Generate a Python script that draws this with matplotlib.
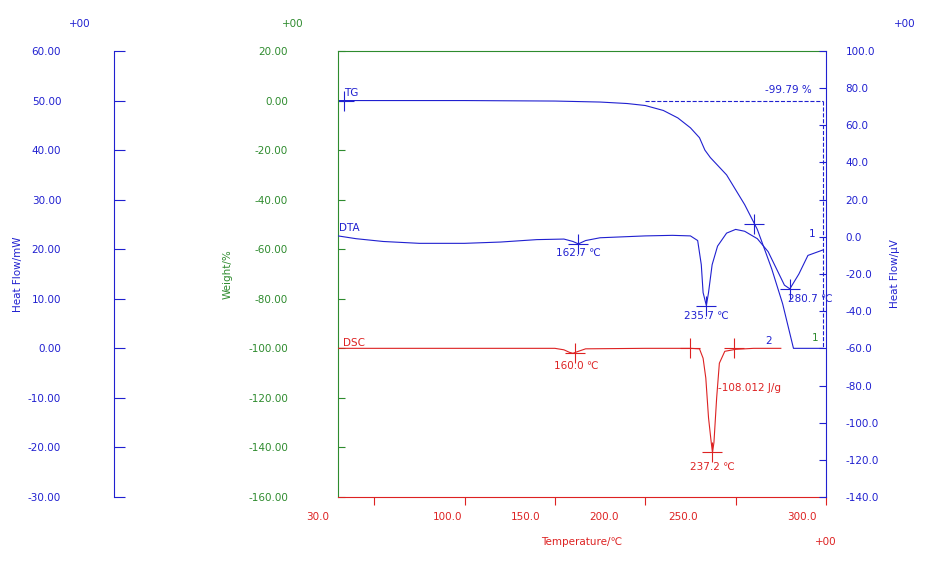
import numpy as np
import matplotlib.pyplot as plt

# TG (weight %) vs temperature
tg_t = [30, 100, 150, 175, 190, 200, 210, 218, 225, 230, 233, 236, 245, 255, 262, 270, 276, 280, 282, 298.5]
tg_w = [0, 0, -0.2, -0.6, -1.2, -2.0, -4.0, -7, -11, -15, -20, -23, -30, -42, -52, -68, -82, -94, -100, -100]

# DTA (uV)
dta_t = [30, 40, 55, 75, 100, 120, 140, 155, 160, 163, 167, 175, 200, 215, 225, 229, 231, 232, 233.8, 235, 237, 240, 245, 250, 255, 262, 268, 273, 277, 280, 285, 290, 298.5]
dta_v = [0.5, -1, -2.5, -3.5, -3.5, -2.8, -1.5, -1.2, -2.5, -3.8, -2.0, -0.5, 0.5, 0.8, 0.5, -2, -15, -30, -37, -30, -15, -5, 2, 4, 3, -1, -8, -18, -26, -28, -20, -10, -7]

# DSC (mW)
dsc_t = [30, 150, 155, 158, 160, 163, 167, 200, 225, 230, 232, 233.5, 235, 236.5, 237.2, 238, 239.5, 241, 244, 250, 260, 275]
dsc_h = [0, 0, -0.3, -0.8, -1.0, -0.6, -0.1, 0, 0, -0.1, -2, -6, -14, -19, -21, -19, -10, -3, -0.6, -0.2, 0, 0]

x_label_pos = [19, 90.4, 133.8, 177, 221, 286.6]
x_label_txt = ['30.0', '100.0', '150.0', '200.0', '250.0', '300.0']

W, H = 927, 566
fig = plt.figure(figsize=(W / 100, H / 100), dpi=100)
plt.rcParams['font.family'] = ['DejaVu Sans']
fs = 7.5
blue, green, red = '#2020d0', '#2e8b2e', '#dd2222'

ax = fig.add_axes([338 / W, 1 - 497 / H, 488 / W, 446 / H])
ax.set_xlim(30, 298.5)
ax.set_ylim(-160, 20)
ax.set_yticks(np.arange(-160, 21, 20))
ax.set_yticklabels(['%.2f' % v for v in np.arange(-160, 21, 20)], color=green, fontsize=fs)
ax.tick_params(axis='y', direction='in', length=5, pad=36, colors=green, labelcolor=green)
ax.set_xticks([50, 100, 150, 200, 250, 300])
ax.set_xticklabels([])
ax.tick_params(axis='x', direction='out', length=6, colors=red)
for p, t in zip(x_label_pos, x_label_txt):
    ax.text(p, -166, t, color=red, fontsize=fs, ha='center', va='top')
ax.text(0.5, -0.09, 'Temperature/\u2103', transform=ax.transAxes, color=red, fontsize=fs, ha='center', va='top')
ax.spines['left'].set_color(green)
ax.spines['top'].set_color(green)
ax.spines['bottom'].set_color(red)
ax.spines['right'].set_visible(False)
ax.set_ylabel('Weight/%', color=green, fontsize=fs)
ax.yaxis.set_label_coords(-0.215, 0.5)

ax.plot(tg_t, tg_w, color=blue, lw=0.8)
ax.plot([200, 298.5], [0, 0], color=blue, lw=0.8, ls='--')
ax.plot([298.5, 298.5], [0, -100], color=blue, lw=0.8, ls='--')
ax.plot([33.5], [0], marker='+', ms=14, color=blue, mew=0.8)
ax.plot([260], [-50], marker='+', ms=14, color=blue, mew=0.8)
ax.text(33.5, 2, 'TG', color=blue, fontsize=fs)
ax.text(279, 3, '-99.79 %', color=blue, fontsize=fs, ha='center')
ax.text(296, -98, '1', color=green, fontsize=fs, ha='right', va='bottom')

# right uV axis
axr = ax.twinx()
axr.set_ylim(-140, 100)
axr.set_yticks(np.arange(-140, 101, 20))
axr.set_yticklabels(['%.1f' % v for v in np.arange(-140, 101, 20)], fontsize=fs)
axr.tick_params(axis='y', direction='in', length=5, pad=14, colors=blue, labelcolor=blue)
for s in ['left', 'top', 'bottom']:
    axr.spines[s].set_visible(False)
axr.spines['right'].set_color(blue)
axr.set_ylabel('Heat Flow/\u00b5V', color=blue, fontsize=fs, labelpad=8)
axr.plot(dta_t, dta_v, color=blue, lw=0.8)
for t, v in [(163, -3.8), (233.8, -37), (280, -28)]:
    axr.plot([t], [v], marker='+', ms=14, color=blue, mew=0.8)
axr.text(30.5, 3, 'DTA', color=blue, fontsize=fs)
axr.text(163, -6, '162.7 \u2103', color=blue, fontsize=fs, ha='center', va='top')
axr.text(234, -40, '235.7 \u2103', color=blue, fontsize=fs, ha='center', va='top')
axr.text(279, -31, '280.7 \u2103', color=blue, fontsize=fs, ha='left', va='top')
axr.text(294, -1, '1', color=blue, fontsize=fs, ha='right', va='bottom')

# left mW axis
axl = ax.twinx()
axl.set_ylim(-30, 60)
axl.spines['right'].set_visible(False)
for s in ['top', 'bottom']:
    axl.spines[s].set_visible(False)
axl.spines['left'].set_visible(True)
axl.spines['left'].set_position(('axes', -224 / 488))
axl.spines['left'].set_color(blue)
axl.yaxis.set_ticks_position('left')
axl.yaxis.set_label_position('left')
axl.set_yticks(np.arange(-30, 61, 10))
axl.set_yticklabels(['%.2f' % v for v in np.arange(-30, 61, 10)], fontsize=fs)
axl.tick_params(axis='y', direction='in', length=8, pad=38, colors=blue, labelcolor=blue)
axl.set_ylabel('Heat Flow/mW', color=blue, fontsize=fs)
axl.yaxis.set_label_coords(-0.645, 0.5)
axl.plot(dsc_t, dsc_h, color=red, lw=0.8)
for t, h in [(161, -1.0), (225, 0), (237.2, -21), (249, 0)]:
    axl.plot([t], [h], marker='+', ms=14, color=red, mew=0.8)
axl.text(33, 0.5, 'DSC', color=red, fontsize=fs)
axl.text(162, -2.5, '160.0 \u2103', color=red, fontsize=fs, ha='center', va='top')
axl.text(240, -8, '-108.012 J/g', color=red, fontsize=fs, ha='left', va='center')
axl.text(237.2, -23, '237.2 \u2103', color=red, fontsize=fs, ha='center', va='top')
axl.text(268, 0.5, '2', color=blue, fontsize=fs, ha='center', va='bottom')

fig.text(80 / W, 1 - 24 / H, '+00', color=blue, fontsize=fs, ha='center', va='center')
fig.text(293 / W, 1 - 24 / H, '+00', color=green, fontsize=fs, ha='center', va='center')
fig.text(905 / W, 1 - 24 / H, '+00', color=blue, fontsize=fs, ha='center', va='center')
fig.text(826 / W, 1 - 542 / H, '+00', color=red, fontsize=fs, ha='center', va='center')

fig.savefig('out.png', dpi=100)
